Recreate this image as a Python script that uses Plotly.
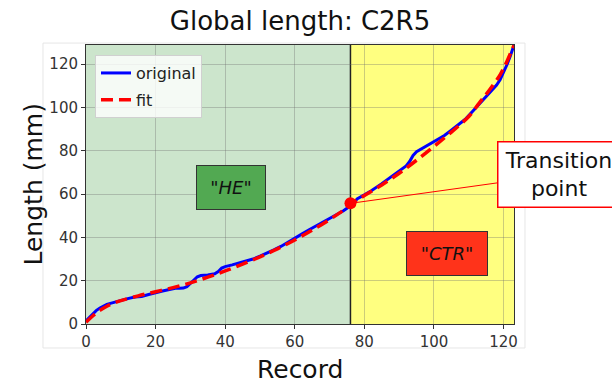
import plotly.graph_objects as go

# ---- data ----
record_orig = [0, 1, 2, 3, 4, 5, 6, 7, 8, 10, 12, 14, 16, 18, 20, 22, 24, 26, 27, 28, 29, 30,
               31, 32, 33, 35, 37, 38, 39, 40, 42, 44, 46, 48, 50, 52, 54, 56, 58, 60, 62, 64,
               66, 68, 70, 72, 74, 76, 77, 78, 80, 82, 85, 88, 90, 92, 93, 94, 95, 97, 100,
               103, 105, 107, 109, 111, 113, 115, 116, 117, 118, 119, 120, 121, 122, 123]
length_orig = [1.5, 3.2, 4.9, 6.3, 7.4, 8.3, 9.0, 9.5, 10.0, 10.8, 11.7, 12.5, 12.7, 13.6, 14.5,
               15.2, 15.9, 16.6, 16.5, 16.6, 17.2, 18.8, 20.3, 21.8, 22.4, 22.6, 23.2, 24.2,
               25.8, 26.5, 27.3, 28.2, 29.0, 30.0, 31.3, 32.6, 34.2, 35.8, 37.6, 39.5, 41.5,
               43.4, 45.2, 46.9, 48.5, 50.3, 52.3, 54.6, 56.3, 57.8, 59.6, 61.5, 64.8, 68.3,
               70.5, 73.0, 75.0, 77.8, 79.5, 81.3, 84.0, 87.0, 89.5, 92.0, 94.5, 98.0, 101.5,
               104.8, 106.5, 108.3, 110.3, 112.7, 116.0, 119.8, 124.0, 128.8]

record_fit = [0, 2, 4, 6, 8, 10, 15, 20, 25, 30, 35, 40, 45, 50, 55, 60, 65, 70, 73, 76,
              77, 80, 85, 90, 95, 100, 105, 110, 113, 115, 117, 119, 120, 121, 122, 123]
length_fit = [0.8, 3.8, 6.3, 8.2, 9.6, 10.8, 13.0, 14.9, 16.8, 19.0, 21.6, 24.5, 27.6, 31.0,
              34.7, 38.8, 43.3, 48.2, 51.4, 54.8, 56.2, 59.3, 64.2, 69.6, 75.6, 82.0, 88.6,
              95.8, 102.0, 106.0, 110.3, 115.0, 118.0, 121.3, 125.0, 128.6]

transition_record = 76
transition_length = 55.7
x_max = 123
y_max = 128.8

FONT = "DejaVu Sans"

fig = go.Figure()

fig.add_trace(go.Scatter(x=record_orig, y=length_orig, mode="lines", name="original",
                         line=dict(color="#0000ff", width=3), legendgroup="a"))
fig.add_trace(go.Scatter(x=record_fit, y=length_fit, mode="lines", name="fit",
                         line=dict(color="#ff0000", width=3.5, dash="12px,6px", shape="spline"),
                         legendgroup="b"))
fig.add_trace(go.Scatter(x=[transition_record], y=[transition_length], mode="markers",
                         marker=dict(color="#ff0000", size=12), showlegend=False))

# regions
fig.add_shape(type="rect", xref="x", yref="paper", x0=0, x1=transition_record, y0=0, y1=1,
              fillcolor="#cce5cc", line_width=0, layer="below")
fig.add_shape(type="rect", xref="x", yref="paper", x0=transition_record, x1=x_max, y0=0, y1=1,
              fillcolor="#ffff80", line_width=0, layer="below")
fig.add_shape(type="line", xref="x", yref="paper", x0=transition_record, x1=transition_record,
              y0=0, y1=1, line=dict(color="#222222", width=1.5), layer="between")
# outer light frame
fig.add_shape(type="rect", xref="paper", yref="paper", x0=-0.1005, x1=1.0257, y0=-0.086, y1=1.007,
              line=dict(color="#e6e6e6", width=1), fillcolor="rgba(0,0,0,0)", layer="below")

fig.add_annotation(x=41.7, y=62.8, xref="x", yref="y", text='<i>"HE"</i>', showarrow=False,
                   font=dict(family=FONT, size=18, color="#111"), bgcolor="#52a952",
                   bordercolor="#333", borderwidth=1, width=62, height=37, borderpad=3)
fig.add_annotation(x=103.8, y=32.6, xref="x", yref="y", text='<i>"CTR"</i>', showarrow=False,
                   font=dict(family=FONT, size=18, color="#111"), bgcolor="#ff331a",
                   bordercolor="#333", borderwidth=1, width=74, height=37, borderpad=3)
fig.add_annotation(x=transition_record, y=transition_length, xref="x", yref="y",
                   text="Transition<br>point", showarrow=True, arrowhead=0, arrowwidth=1,
                   arrowcolor="#ff0000", ax=208, ay=-29,
                   font=dict(family=FONT, size=22, color="#111"), bgcolor="white",
                   bordercolor="#ff0000", borderwidth=1.5, borderpad=4, width=112, height=56)

# axis titles
fig.add_annotation(x=(33 - 86) / 428, y=0.5, xref="paper", yref="paper", text="Length (mm)",
                   xanchor="center", yanchor="middle",
                   showarrow=False, textangle=-90, font=dict(family=FONT, size=25, color="#111"))
fig.add_annotation(x=0.5, y=(324 - 369) / 279, xref="paper", yref="paper", text="Record",
                   xanchor="center", yanchor="middle",
                   showarrow=False, font=dict(family=FONT, size=25, color="#111"))

axis_common = dict(showgrid=True, gridcolor="rgba(110,110,110,0.35)", gridwidth=1,
                   showline=True, linecolor="#333", linewidth=1, mirror=True,
                   ticks="outside", ticklen=4, tickcolor="#333", zeroline=False,
                   tickfont=dict(family=FONT, size=15, color="#333"))

fig.update_xaxes(range=[0, x_max], tickvals=[0, 20, 40, 60, 80, 100, 120], **axis_common)
fig.update_yaxes(range=[0, y_max], tickvals=[0, 20, 40, 60, 80, 100, 120], **axis_common)

fig.update_layout(
    width=612, height=385,
    margin=dict(l=86, r=98, t=45, b=61),
    paper_bgcolor="white", plot_bgcolor="white",
    font=dict(family=FONT),
    title=dict(text="Global length: C2R5", x=0.5, xref="paper", y=1 - 21 / 385,
               yref="container", yanchor="middle", xanchor="center",
               font=dict(family=FONT, size=26, color="#111")),
    legend=dict(x=0.021, y=0.964, xanchor="left", yanchor="top",
                bgcolor="rgba(255,255,255,0.8)", bordercolor="#d0d0d0", borderwidth=1,
                font=dict(family=FONT, size=16, color="#222"), tracegroupgap=3),
    showlegend=True,
)

fig.write_html("out.html")
